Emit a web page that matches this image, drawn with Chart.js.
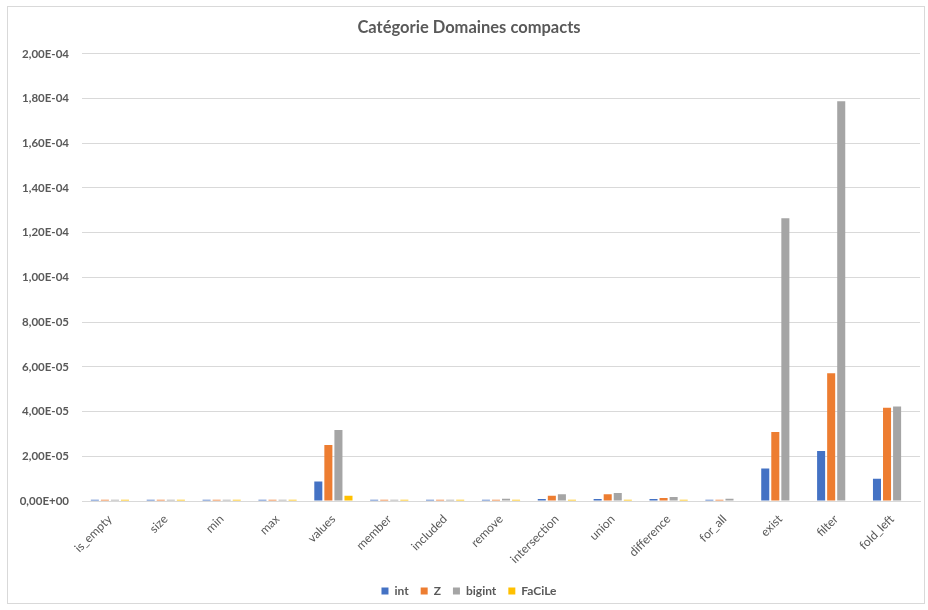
<!DOCTYPE html>
<html lang="fr">
<head>
    <meta charset="UTF-8">
    <title>Catégorie Domaines compacts</title>
    <style>
        * {
            margin: 0;
            padding: 0;
            box-sizing: border-box;
        }

        body {
            background: #fff;
            width: 928px;
            height: 610px;
        }

        .frame {
            position: absolute;
            left: 7px;
            top: 6px;
            width: 918px;
            height: 598px;
            border: 1px solid #d9d9d9;
        }

        .chart-box {
            position: absolute;
            left: 0;
            top: 0;
            width: 928px;
            height: 610px;
        }
    </style>
</head>
<body>
    <div class="frame"></div>
    <div class="chart-box">
        <canvas id="domChart" width="928" height="610"></canvas>
    </div>

    <script src="https://cdn.jsdelivr.net/npm/chart.js"></script>
    <script>
        // categories and series
        var categories = ['is_empty', 'size', 'min', 'max', 'values', 'member', 'included', 'remove',
            'intersection', 'union', 'difference', 'for_all', 'exist', 'filter', 'fold_left'];

        var intVals    = [6e-7, 6e-7, 6e-7, 6e-7, 8.7e-6, 6e-7, 6e-7, 6e-7, 9e-7, 9e-7, 9e-7, 6e-7, 1.45e-5, 2.24e-5, 1.0e-5];
        var zVals      = [6e-7, 6e-7, 6e-7, 6e-7, 2.51e-5, 6e-7, 6e-7, 6e-7, 2.3e-6, 3.0e-6, 1.3e-6, 6e-7, 3.09e-5, 5.71e-5, 4.17e-5];
        var bigintVals = [6e-7, 6e-7, 6e-7, 6e-7, 3.18e-5, 6e-7, 6e-7, 1.0e-6, 3.0e-6, 3.6e-6, 1.8e-6, 1.0e-6, 1.265e-4, 1.788e-4, 4.23e-5];
        var facileVals = [6e-7, 6e-7, 6e-7, 6e-7, 2.4e-6, 6e-7, 6e-7, 6e-7, 6e-7, 6e-7, 6e-7, 0, 0, 0, 0];

        var seriesNames = ['int', 'Z', 'bigint', 'FaCiLe'];
        var seriesColors = ['#4472C4', '#ED7D31', '#A5A5A5', '#FFC000'];

        var yMin = 0;
        var yMax = 2e-4;
        var yStep = 2e-5;

        // Excel style: 2,00E-04
        function sciLabel(v) {
            var s = Number(v).toExponential(2);
            var parts = s.split('e');
            var mant = parts[0].replace('.', ',');
            var exp = parseInt(parts[1], 10);
            var sign = exp < 0 ? '-' : '+';
            var e = String(Math.abs(exp));
            if (e.length < 2) e = '0' + e;
            return mant + 'E' + sign + e;
        }

        var allSeries = [intVals, zVals, bigintVals, facileVals];
        var datasets = allSeries.map(function (vals, i) {
            return {
                label: seriesNames[i],
                data: vals,
                backgroundColor: seriesColors[i],
                borderWidth: 0,
                barPercentage: 0.8,
                categoryPercentage: 0.72
            };
        });

        var yTickFont = { family: 'Lato', size: 11.5, weight: 'bold' };
        var xTickFont = { family: 'Lato', size: 12 };

        var ctx = document.getElementById('domChart').getContext('2d');
        var domChart = new Chart(ctx, {
            type: 'bar',
            data: {
                labels: categories,
                datasets: datasets
            },
            options: {
                responsive: false,
                animation: false,
                devicePixelRatio: 1,
                layout: {
                    padding: { left: 18, right: 8, top: 10, bottom: 3 }
                },
                plugins: {
                    title: {
                        display: true,
                        text: 'Catégorie Domaines compacts',
                        color: '#595959',
                        font: { family: 'Lato', size: 16.5, weight: 'bold' },
                        padding: { top: 8, bottom: 16 }
                    },
                    legend: {
                        position: 'bottom',
                        labels: {
                            color: '#595959',
                            boxWidth: 7,
                            boxHeight: 7,
                            padding: 12,
                            font: { family: 'Lato', size: 12, weight: 'bold' }
                        }
                    },
                    tooltip: { enabled: false }
                },
                scales: {
                    x: {
                        afterFit: function (scale) { scale.height = 72; },
                        grid: { display: false },
                        border: { color: '#d9d9d9' },
                        ticks: {
                            color: '#595959',
                            font: xTickFont,
                            minRotation: 45,
                            maxRotation: 45,
                            autoSkip: false
                        }
                    },
                    y: {
                        min: yMin,
                        max: yMax,
                        afterFit: function (scale) { scale.width = 64; },
                        afterBuildTicks: function (scale) {
                            var t = [];
                            for (var k = 0; k <= 10; k++) t.push({ value: yMin + k * yStep });
                            scale.ticks = t;
                        },
                        grid: { color: '#d9d9d9', drawTicks: false },
                        border: { display: false },
                        ticks: {
                            color: '#595959',
                            font: yTickFont,
                            padding: 13,
                            callback: function (v) { return sciLabel(v); }
                        }
                    }
                }
            }
        });
    </script>
</body>
</html>
